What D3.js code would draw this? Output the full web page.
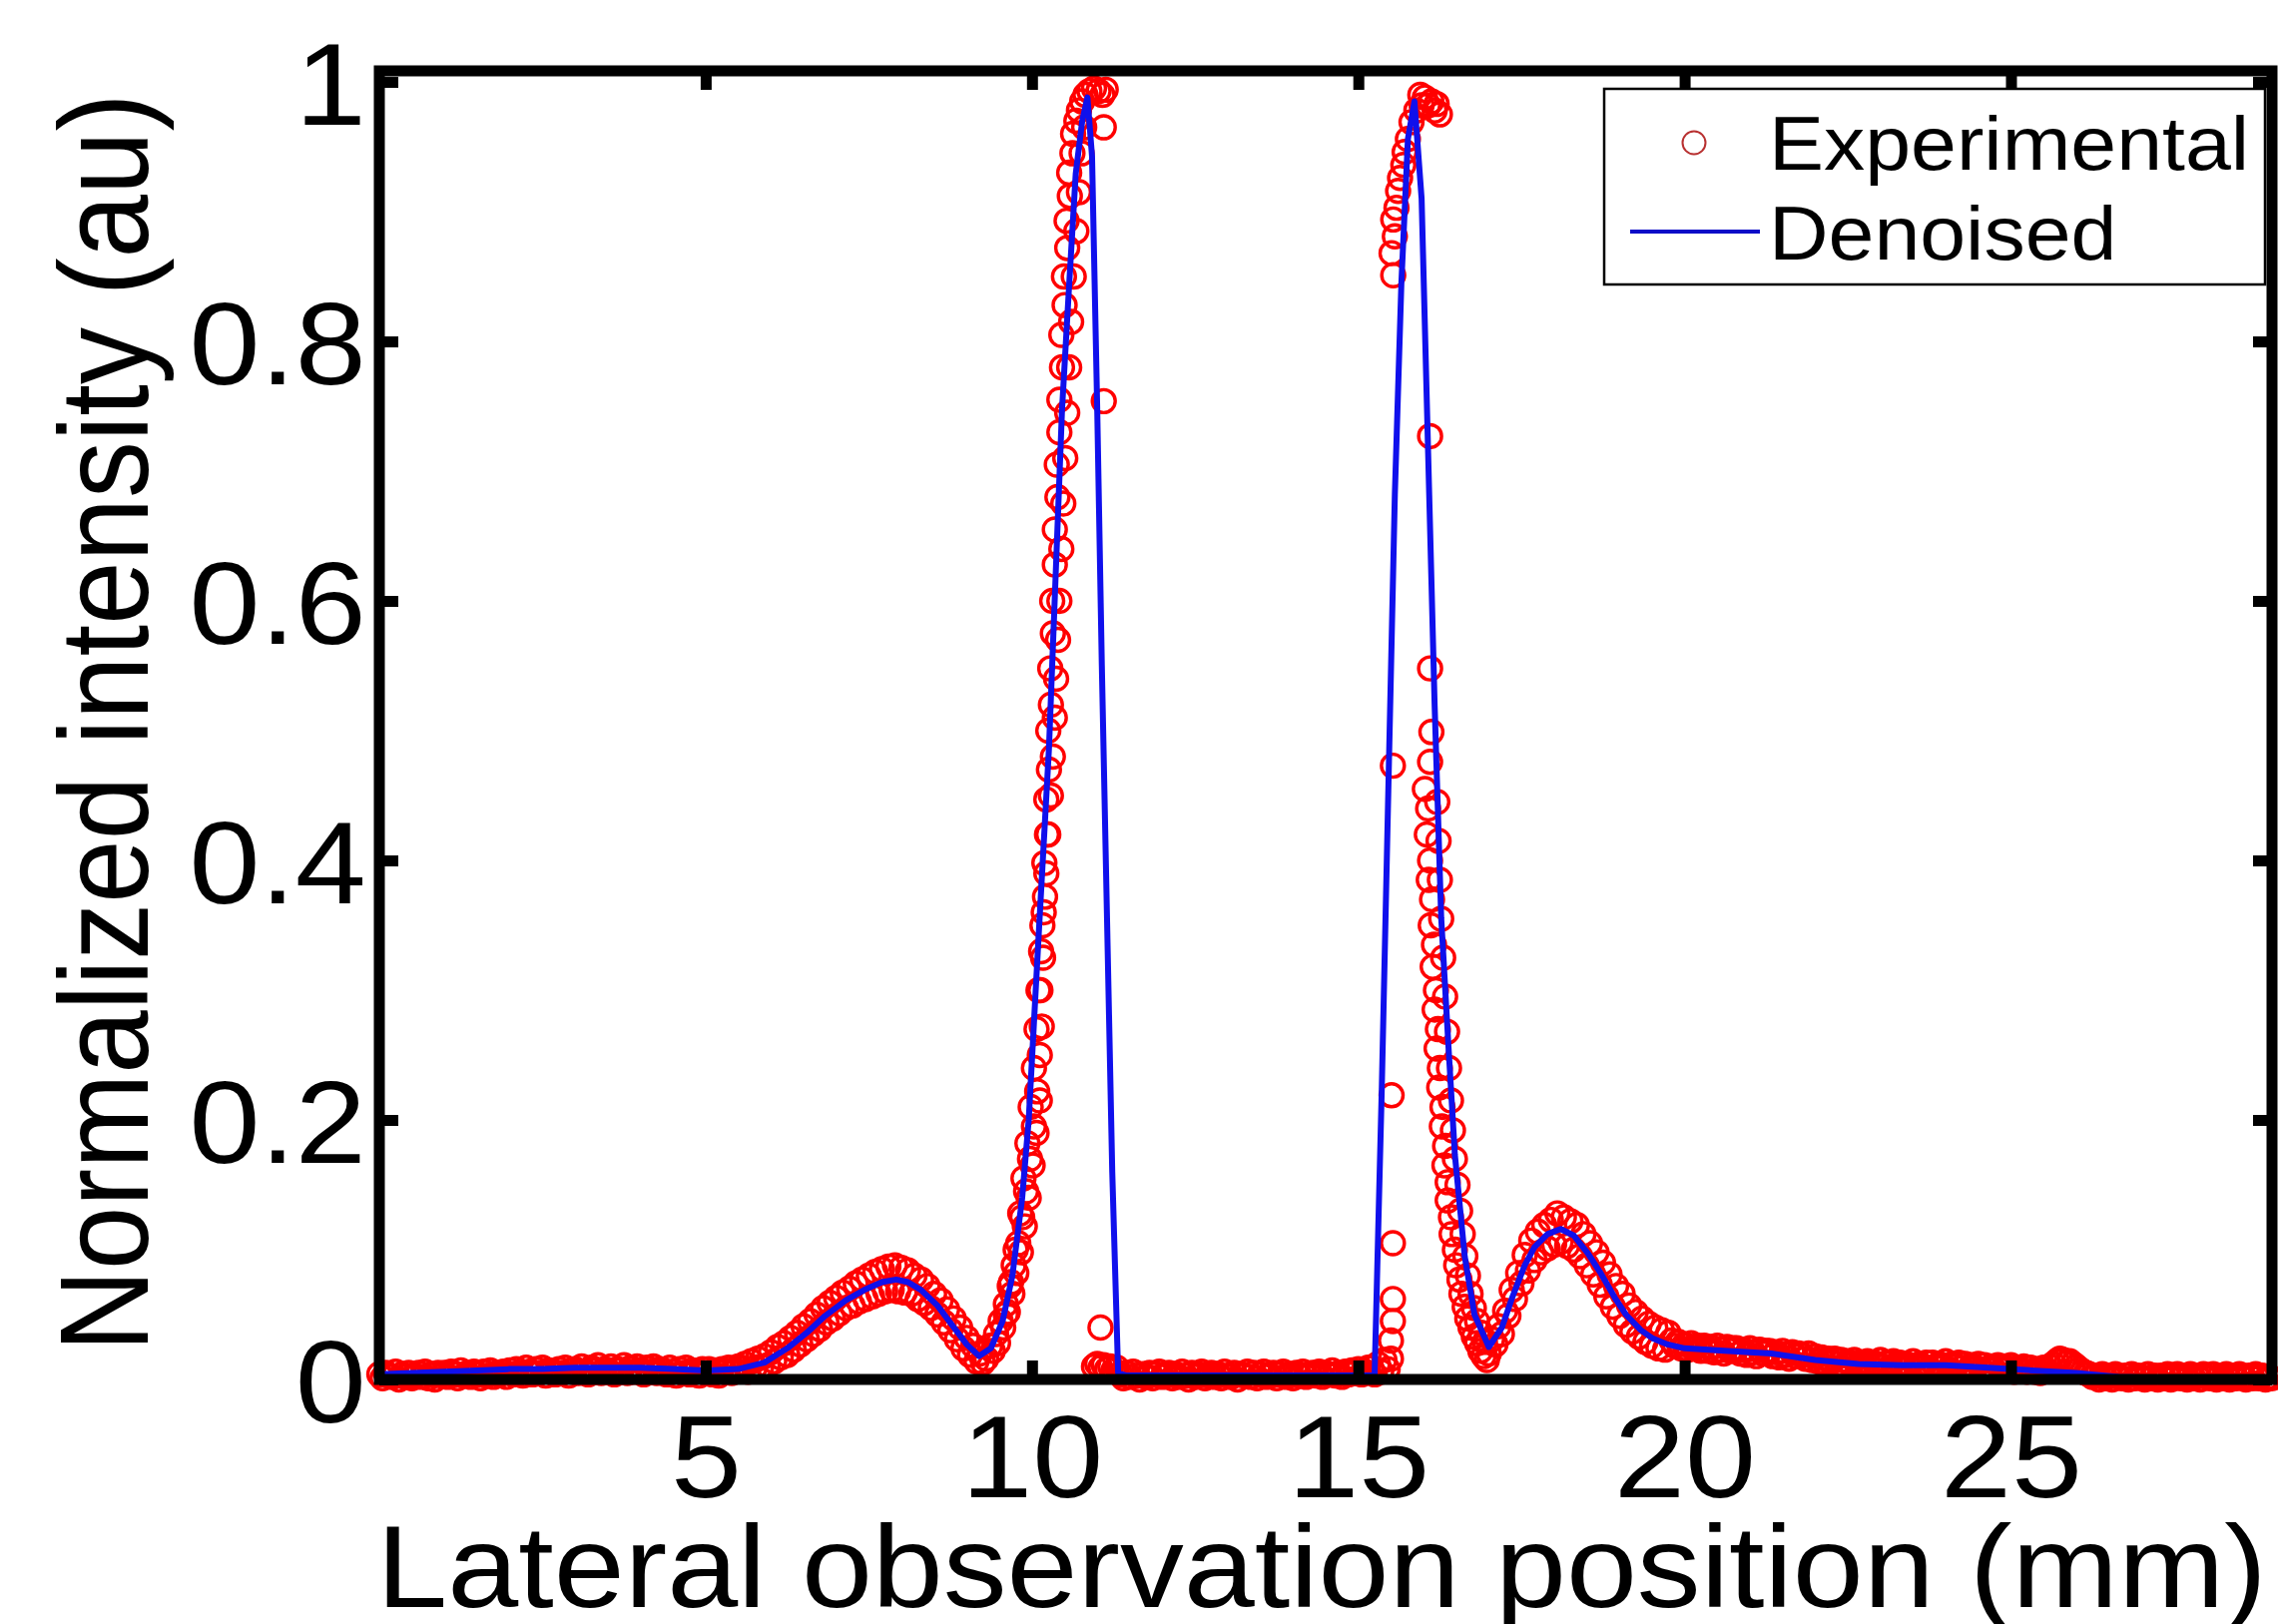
<!DOCTYPE html>
<html>
<head>
<meta charset="utf-8">
<script src="https://cdn.jsdelivr.net/npm/d3@7"></script>
<style>
  body { margin: 0; background: #fff; }
  text { font-family: "Liberation Sans", Arial, Helvetica, sans-serif; fill: #000; }
</style>
</head>
<body>
<div id="canvas"></div>
<script>
// axis ticks
const xTicks = [5, 10, 15, 20, 25];
const yTicks = [0, 0.2, 0.4, 0.6, 0.8, 1];
const yTickLabels = ["0", "0.2", "0.4", "0.6", "0.8", "1"];
const seriesNames = ["Experimental", "Denoised"];

// experimental points
const expX = [
  // flat start
  0,0.05,0.1,0.15,0.2,0.25,0.3,0.35,0.4,0.45,
  0.5,0.55,0.6,0.65,0.7,0.75,0.8,0.85,0.9,0.95,
  1,1.05,1.1,1.15,1.2,1.25,1.3,1.35,1.4,1.45,
  1.5,1.55,1.6,1.65,1.7,1.75,1.8,1.85,1.9,1.95,
  2,2.05,2.1,2.15,2.2,2.25,2.3,2.35,2.4,2.45,
  2.5,2.55,2.6,2.65,2.7,2.75,2.8,2.85,2.9,2.95,
  3,3.05,3.1,3.15,3.2,3.25,3.3,3.35,3.4,3.45,
  3.5,3.55,3.6,3.65,3.7,3.75,3.8,3.85,3.9,3.95,
  4,4.05,4.1,4.15,4.2,4.25,4.3,4.35,4.4,4.45,
  4.5,4.55,4.6,4.65,4.7,4.75,4.8,4.85,4.9,4.95,
  5,5.05,5.1,5.15,5.2,5.25,5.3,5.35,5.4,5.45,
  5.5,5.55,
  // first bump
  5.6,5.65,5.7,5.75,5.8,5.85,5.9,5.95,6,6.05,
  6.1,6.15,6.2,6.25,6.3,6.35,6.4,6.45,6.5,6.55,
  6.6,6.65,6.7,6.75,6.8,6.85,6.9,6.95,7,7.05,
  7.1,7.15,7.2,7.25,7.3,7.35,7.4,7.45,7.5,7.55,
  7.6,7.65,7.7,7.75,7.8,7.85,7.9,7.95,8,8.05,
  8.1,8.15,8.2,8.25,8.3,8.35,8.4,8.45,8.5,8.55,
  8.6,8.65,8.7,8.75,8.8,8.85,8.9,8.95,9,9.05,
  9.1,9.15,9.2,9.25,
  // first peak
  9.3,9.36,9.40,9.45,9.48,9.52,9.56,9.60,9.63,9.66,
  9.70,9.72,9.76,9.79,9.83,9.85,9.89,9.91,9.95,9.97,
  10.01,10.03,10.07,10.08,10.12,10.12,10.15,10.13,10.17,10.16,
  10.20,10.19,10.23,10.22,10.26,10.25,10.29,10.28,10.32,10.31,
  10.35,10.35,10.39,10.38,10.42,10.42,10.46,10.45,10.50,10.49,
  10.54,10.53,10.58,10.57,10.62,10.63,10.68,10.72,10.77,10.82,
  10.88,10.95,11.02,11.08,11.13,11.10,11.10,11.05,
  9.60,9.68,9.75,9.82,9.87,9.93,9.98,10.03,10.07,10.10,
  10.14,10.18,10.22,10.25,10.29,10.32,10.35,10.37,10.40,10.42,
  10.45,10.48,10.51,10.54,10.57,10.60,10.64,10.68,10.72,10.76,
  10.80,
  // gap between peaks
  10.95,11.0,11.05,11.1,11.15,11.2,11.25,11.3,
  11.35,11.4,11.45,11.5,11.55,11.6,11.65,11.7,11.75,11.8,
  11.85,11.9,11.95,12,12.05,12.1,12.15,12.2,12.25,12.3,
  12.35,12.4,12.45,12.5,12.55,12.6,12.65,12.7,12.75,12.8,
  12.85,12.9,12.95,13,13.05,13.1,13.15,13.2,13.25,13.3,
  13.35,13.4,13.45,13.5,13.55,13.6,13.65,13.7,13.75,13.8,
  13.85,13.9,13.95,14,14.05,14.1,14.15,14.2,14.25,14.3,
  14.35,14.4,14.45,14.5,14.55,14.6,14.65,14.7,14.75,14.8,
  14.85,14.9,14.95,15,15.05,15.1,15.15,
  15.2,15.25,15.3,15.35,15.4,15.45,15.5,
  // second peak, rising side and top
  15.50,15.53,15.53,15.53,15.51,15.53,
  15.535,15.51,15.56,15.535,15.585,15.61,15.64,15.69,15.71,15.76,
  15.815,15.89,15.95,15.97,16.02,16.07,16.12,16.17,16.2,16.25,
  // second peak, falling side
  16.1,16.1,16.12,16.1,
  16.02,16.07,16.05,16.10,16.08,16.13,16.11,16.16,16.14,16.19,
  16.17,16.22,16.20,16.25,16.24,16.29,16.28,16.33,16.32,16.37,
  16.37,16.42,16.43,16.48,16.50,16.55,16.58,16.63,16.67,16.72,
  16.77,16.82,16.87,16.92,16.97,
  16.21,16.23,16.25,16.27,16.30,16.33,16.36,16.39,16.42,16.45,
  16.48,16.52,16.56,16.60,16.64,16.68,16.72,16.77,16.82,16.88,
  16.94,
  // second bump
  17,17.05,17.1,17.15,17.2,17.25,17.3,17.35,17.4,17.45,
  17.5,17.55,17.6,17.65,17.7,17.75,17.8,17.85,17.9,17.95,
  18,18.05,18.1,18.15,18.2,18.25,18.3,18.35,18.4,18.45,
  18.5,18.55,18.6,18.65,18.7,18.75,18.8,18.85,18.9,18.95,
  19,19.05,19.1,19.15,19.2,19.25,19.3,19.35,19.4,19.45,
  19.5,19.55,19.6,19.65,19.7,19.75,
  // tail
  19.8,19.85,19.9,19.95,20,20.05,20.1,20.15,20.2,20.25,
  20.3,20.35,20.4,20.45,20.5,20.55,20.6,20.65,20.7,20.75,
  20.8,20.85,20.9,20.95,21,21.05,21.1,21.15,21.2,21.25,
  21.3,21.35,21.4,21.45,21.5,21.55,21.6,21.65,21.7,21.75,
  21.8,21.85,21.9,21.95,22,22.05,22.1,22.15,22.2,22.25,
  22.3,22.35,22.4,22.45,22.5,22.55,22.6,22.65,22.7,22.75,
  22.8,22.85,22.9,22.95,23,23.05,23.1,23.15,23.2,23.25,
  23.3,23.35,23.4,23.45,23.5,23.55,23.6,23.65,23.7,23.75,
  23.8,23.85,23.9,23.95,24,24.05,24.1,24.15,24.2,24.25,
  24.3,24.35,24.4,24.45,24.5,24.55,24.6,24.65,24.7,24.75,
  24.8,24.85,24.9,24.95,25,25.05,25.1,25.15,25.2,25.25,
  25.3,25.35,25.4,25.45,25.5,25.55,25.6,25.65,25.7,25.75,
  25.8,25.85,25.9,25.95,26,26.05,26.1,26.15,26.2,26.25,
  26.3,26.35,26.4,26.45,26.5,26.55,26.6,26.65,26.7,26.75,
  26.8,26.85,26.9,26.95,27,27.05,27.1,27.15,27.2,27.25,
  27.3,27.35,27.4,27.45,27.5,27.55,27.6,27.65,27.7,27.75,
  27.8,27.85,27.9,27.95,28,28.05,28.1,28.15,28.2,28.25,
  28.3,28.35,28.4,28.45,28.5,28.55,28.6,28.65,28.7,28.75,
  28.8,28.85,28.9,28.95,29
];
const expY = [
  0.004,0.001,0.005,0.003,0.002,0.006,0.000,0.004,0.002,0.005,
  0.001,0.003,0.005,0.002,0.006,0.001,0.004,0.000,0.005,0.003,
  0.005,0.002,0.006,0.004,0.001,0.007,0.003,0.005,0.002,0.006,
  0.004,0.001,0.006,0.003,0.007,0.002,0.005,0.004,0.006,0.002,
  0.007,0.004,0.008,0.005,0.003,0.009,0.006,0.004,0.008,0.005,
  0.009,0.003,0.007,0.006,0.004,0.008,0.005,0.009,0.003,0.007,
  0.008,0.005,0.010,0.006,0.004,0.009,0.007,0.011,0.005,0.008,
  0.006,0.010,0.004,0.008,0.007,0.011,0.005,0.009,0.006,0.010,
  0.007,0.004,0.009,0.006,0.010,0.005,0.008,0.007,0.004,0.009,
  0.006,0.003,0.008,0.005,0.009,0.004,0.007,0.006,0.003,0.008,
  0.005,0.008,0.004,0.007,0.003,0.008,0.006,0.009,0.005,0.007,
  0.010,0.008,
  0.012,0.006,0.014,0.009,0.016,0.010,0.018,0.011,0.021,0.014,
  0.025,0.017,0.028,0.019,0.032,0.023,0.036,0.027,0.041,0.031,
  0.045,0.035,0.050,0.039,0.055,0.044,0.059,0.047,0.063,0.051,
  0.067,0.055,0.070,0.057,0.074,0.060,0.077,0.062,0.080,0.064,
  0.083,0.066,0.085,0.068,0.087,0.069,0.088,0.068,0.086,0.067,
  0.084,0.066,0.080,0.062,0.077,0.059,0.072,0.055,0.066,0.050,
  0.061,0.044,0.054,0.038,0.047,0.031,0.040,0.024,0.032,0.019,
  0.026,0.014,0.020,0.013,
  0.016,0.026,0.022,0.035,0.028,0.045,0.040,0.058,0.052,0.072,
  0.066,0.088,0.082,0.105,0.098,0.125,0.118,0.145,0.140,0.170,
  0.165,0.195,0.190,0.222,0.215,0.250,0.272,0.300,0.325,0.350,
  0.372,0.398,0.420,0.447,0.470,0.500,0.520,0.548,0.575,0.600,
  0.628,0.655,0.680,0.705,0.730,0.755,0.780,0.805,0.828,0.850,
  0.872,0.893,0.912,0.930,0.945,0.960,0.970,0.978,0.985,0.990,
  0.993,0.995,0.993,0.990,0.994,0.965,0.754,0.040,
  0.050,0.075,0.100,0.128,0.155,0.182,0.210,0.240,0.270,0.300,
  0.330,0.360,0.390,0.420,0.450,0.480,0.510,0.540,0.570,0.600,
  0.640,0.675,0.710,0.745,0.780,0.815,0.850,0.885,0.915,0.945,
  0.965,
  0.010,0.012,0.009,0.011,0.008,0.010,0.007,0.009,
  0.004,0.001,0.005,0.002,0.006,0.003,0.000,0.004,0.002,0.005,
  0.001,0.004,0.006,0.002,0.003,0.005,0.001,0.004,0.002,0.006,
  0.003,0.000,0.005,0.002,0.004,0.006,0.001,0.003,0.005,0.002,
  0.004,0.001,0.006,0.003,0.002,0.005,0.000,0.004,0.003,0.006,
  0.002,0.005,0.001,0.004,0.006,0.002,0.003,0.005,0.001,0.004,
  0.006,0.002,0.004,0.001,0.005,0.003,0.006,0.002,0.004,0.005,
  0.003,0.006,0.002,0.005,0.004,0.007,0.003,0.005,0.002,0.006,
  0.004,0.007,0.005,0.008,0.004,0.006,0.009,
  0.009,0.004,0.012,0.006,0.015,0.008,0.016,
  0.030,0.045,0.062,0.105,0.219,0.473,
  0.851,0.868,0.881,0.894,0.903,0.916,0.926,0.936,0.946,0.956,
  0.969,0.978,0.990,0.982,0.988,0.982,0.985,0.978,0.983,0.975,
  0.727,0.548,0.499,0.476,
  0.455,0.440,0.420,0.400,0.385,0.370,0.350,0.335,0.318,0.300,
  0.285,0.270,0.255,0.240,0.225,0.210,0.195,0.180,0.165,0.152,
  0.138,0.125,0.112,0.100,0.088,0.077,0.066,0.056,0.047,0.040,
  0.033,0.028,0.022,0.018,0.015,
  0.445,0.415,0.385,0.355,0.325,0.295,0.268,0.240,0.215,0.192,
  0.170,0.150,0.130,0.112,0.095,0.080,0.066,0.055,0.045,0.036,
  0.029,
  0.020,0.031,0.027,0.041,0.035,0.053,0.049,0.069,0.062,0.082,
  0.074,0.096,0.084,0.107,0.092,0.114,0.098,0.119,0.101,0.123,
  0.104,0.128,0.106,0.125,0.103,0.122,0.100,0.119,0.095,0.112,
  0.088,0.105,0.081,0.098,0.073,0.090,0.064,0.081,0.056,0.072,
  0.049,0.066,0.042,0.057,0.037,0.052,0.033,0.047,0.029,0.043,
  0.026,0.040,0.024,0.038,0.023,0.036,
  0.030,0.026,0.029,0.024,0.027,0.023,0.028,0.024,0.026,0.022,
  0.026,0.022,0.025,0.021,0.026,0.023,0.020,0.025,0.022,0.024,
  0.024,0.020,0.023,0.019,0.024,0.021,0.018,0.023,0.020,0.022,
  0.022,0.018,0.021,0.017,0.022,0.019,0.016,0.021,0.018,0.020,
  0.019,0.016,0.020,0.015,0.018,0.014,0.017,0.013,0.016,0.014,
  0.016,0.012,0.015,0.011,0.014,0.012,0.015,0.010,0.013,0.011,
  0.014,0.010,0.013,0.011,0.015,0.010,0.013,0.009,0.014,0.011,
  0.013,0.009,0.012,0.010,0.014,0.009,0.012,0.010,0.013,0.008,
  0.013,0.009,0.012,0.010,0.014,0.008,0.012,0.010,0.013,0.009,
  0.012,0.008,0.011,0.009,0.012,0.007,0.011,0.008,0.010,0.007,
  0.011,0.007,0.010,0.008,0.011,0.006,0.009,0.007,0.010,0.006,
  0.009,0.006,0.008,0.005,0.009,0.007,0.010,0.012,0.014,0.016,
  0.015,0.013,0.014,0.012,0.010,0.008,0.006,0.005,0.004,0.002,
  0.003,0.000,0.004,0.001,0.003,0.000,0.004,0.002,0.001,0.003,
  0.000,0.004,0.001,0.003,0.002,0.000,0.004,0.001,0.003,0.000,
  0.003,0.001,0.004,0.000,0.002,0.004,0.001,0.003,0.000,0.004,
  0.001,0.003,0.000,0.004,0.002,0.001,0.004,0.000,0.003,0.001,
  0.004,0.000,0.003,0.001,0.004,0.002,0.000,0.003,0.001,0.004,
  0.001,0.003,0.000,0.002,0.001
];

// denoised curve
const denX = [0,0.5,1,1.5,2,2.5,3,3.5,4,4.5,5,5.5,5.9,6.25,6.55,6.83,7.15,7.43,7.7,7.92,
  8.1,8.3,8.55,8.79,9.0,9.19,9.37,9.55,9.7,9.85,9.95,10.1,10.26,10.36,10.46,10.57,10.67,10.77,10.85,10.92,
  11.0,11.07,11.15,11.23,11.32,11.45,12,13,14,15,15.2,15.25,15.36,15.46,15.56,15.66,15.76,15.86,15.97,16.07,
  16.17,16.27,16.38,16.48,16.63,16.78,17.0,17.2,17.35,17.55,17.7,17.9,18.1,18.3,18.52,18.7,18.93,19.1,19.33,19.5,
  19.74,20,20.67,21.33,22,22.66,23.32,24,24.66,25.32,26,26.65,27.5,28.3,29];
const denY = [0.004,0.005,0.006,0.007,0.008,0.008,0.009,0.009,0.009,0.008,0.007,0.008,0.013,0.024,0.036,0.049,0.061,0.069,0.075,0.077,
  0.075,0.069,0.057,0.041,0.027,0.018,0.024,0.045,0.08,0.14,0.2,0.34,0.486,0.616,0.747,0.844,0.929,0.97,0.988,0.943,
  0.747,0.551,0.355,0.16,0.005,0.003,0.003,0.003,0.003,0.003,0.003,0.004,0.225,0.454,0.682,0.845,0.956,0.985,0.91,0.714,
  0.519,0.356,0.258,0.173,0.095,0.05,0.025,0.04,0.062,0.088,0.102,0.112,0.116,0.111,0.097,0.083,0.063,0.05,0.038,0.032,
  0.027,0.024,0.022,0.02,0.015,0.012,0.011,0.011,0.009,0.007,0.005,0.002,0.001,0.001,0.001];

const width = 2282, height = 1627;
const margin = { top: 71, left: 380, bottom: 245, right: 6 };
const xMax = 29, yMax = 1.0085;
const fontSize = 116;
const stretch = 1.1;   // the text in the picture is a bit wider than tall

const svg = d3.select("#canvas").append("svg")
    .attr("width", width)
    .attr("height", height)
    .style("background", "#fff");

const x = d3.scaleLinear().domain([0, xMax]).range([margin.left, width - margin.right]);
const y = d3.scaleLinear().domain([0, yMax]).range([height - margin.bottom, margin.top]);

const expData = d3.range(Math.min(expX.length, expY.length)).map(i => ({ x: expX[i], y: expY[i] }));
const denData = d3.range(Math.min(denX.length, denY.length)).map(i => ({ x: denX[i], y: denY[i] }));

// experimental markers
svg.append("g")
    .selectAll("circle")
    .data(expData)
    .enter().append("circle")
    .attr("cx", d => x(d.x))
    .attr("cy", d => y(d.y))
    .attr("r", 11.5)
    .attr("fill", "none")
    .attr("stroke", "#ff0000")
    .attr("stroke-width", 3.4);

// denoised line
const line = d3.line().x(d => x(d.x)).y(d => y(d.y));
svg.append("path")
    .datum(denData)
    .attr("d", line)
    .attr("fill", "none")
    .attr("stroke", "#1010ec")
    .attr("stroke-width", 6)
    .attr("stroke-linejoin", "round");

// axes
const tickLen = 19;
const styleTicks = g => {
    g.select(".domain").remove();
    g.selectAll(".tick line").attr("stroke", "#000").attr("stroke-width", 11);
    g.attr("font-size", fontSize).attr("font-family", null);
};

const gx = svg.append("g")
    .attr("transform", `translate(0,${y(0)})`)
    .call(d3.axisBottom(x).tickValues(xTicks).tickSize(-tickLen).tickFormat(d => String(d)))
    .call(styleTicks);
gx.selectAll(".tick text")
    .attr("y", 118).attr("dy", 0)
    .attr("transform", `scale(${stretch},1)`);

svg.append("g")
    .attr("transform", `translate(0,${y(yMax)})`)
    .call(d3.axisTop(x).tickValues(xTicks).tickSize(-tickLen).tickFormat(""))
    .call(styleTicks);

const gy = svg.append("g")
    .attr("transform", `translate(${x(0)},0)`)
    .call(d3.axisLeft(y).tickValues(yTicks).tickSize(-tickLen).tickPadding(12)
        .tickFormat((d, i) => yTickLabels[i]))
    .call(styleTicks);
gy.selectAll(".tick text")
    .attr("dy", "0.37em")
    .attr("transform", `scale(${stretch},1)`);

svg.append("g")
    .attr("transform", `translate(${x(xMax)},0)`)
    .call(d3.axisRight(y).tickValues(yTicks).tickSize(-tickLen).tickFormat(""))
    .call(styleTicks);

// box
svg.append("rect")
    .attr("x", x(0)).attr("y", y(yMax))
    .attr("width", x(xMax) - x(0)).attr("height", y(0) - y(yMax))
    .attr("fill", "none").attr("stroke", "#000").attr("stroke-width", 11);

// axis titles
svg.append("text")
    .attr("transform", `translate(1324,1610) scale(${stretch},1)`)
    .attr("text-anchor", "middle")
    .attr("font-size", fontSize)
    .text("Lateral observation position (mm)");

svg.append("text")
    .attr("transform", `translate(148,724) scale(${stretch},1) rotate(-90)`)
    .attr("text-anchor", "middle")
    .attr("font-size", 114)
    .text("Normalized intensity (au)");

// legend
const legend = svg.append("g");
legend.append("rect")
    .attr("x", 1607).attr("y", 89).attr("width", 662).attr("height", 196)
    .attr("fill", "#fff").attr("stroke", "#000").attr("stroke-width", 2.5);
legend.append("circle")
    .attr("cx", 1697).attr("cy", 143).attr("r", 11.5)
    .attr("fill", "none").attr("stroke", "#b83030").attr("stroke-width", 2);
legend.append("line")
    .attr("x1", 1633).attr("x2", 1763).attr("y1", 232).attr("y2", 232)
    .attr("stroke", "#0c0cc8").attr("stroke-width", 4);
legend.selectAll("text.lbl")
    .data(seriesNames)
    .enter().append("text")
    .attr("class", "lbl")
    .attr("transform", (d, i) => `translate(1772,${i === 0 ? 170 : 260}) scale(1.085,1)`)
    .attr("font-size", 76)
    .text(d => d);
</script>
</body>
</html>
